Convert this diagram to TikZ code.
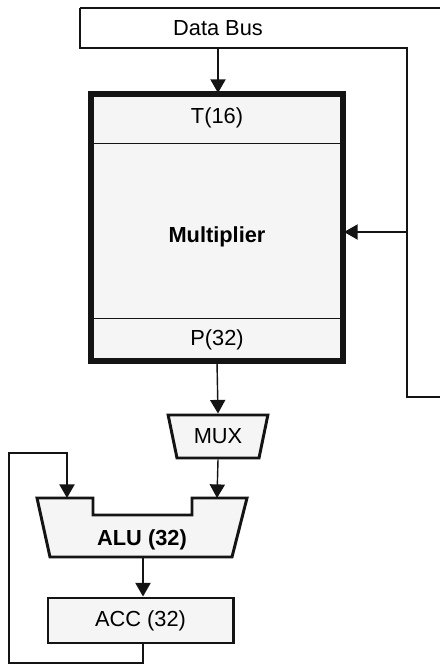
\documentclass[tikz,border=0pt]{standalone}
\usepackage{fontspec}
\setmainfont{Liberation Sans}
\usetikzlibrary{shapes.geometric, arrows.meta, positioning, calc}
\definecolor{ink}{HTML}{141414}
\definecolor{stipple}{HTML}{F5F5F5}
\tikzset{
  unit/.style     = {rectangle, draw=ink, line width=2.1pt, fill=stipple, align=center,
                      font=\fontsize{15.5}{17}\selectfont, inner sep=0pt},
  multbox/.style  = {unit, line width=2.9pt, minimum width=6.25cm, minimum height=6.625cm,
                      font=\fontsize{15.5}{17}\selectfont\bfseries},
  regsec/.style   = {rectangle, inner sep=0pt, minimum width=6.25cm, align=center,
                      font=\fontsize{15.5}{17}\selectfont},
  muxbox/.style   = {trapezium, trapezium left angle=71, trapezium right angle=71,
                      trapezium stretches=true, shape border rotate=180, draw=ink,
                      line width=2.1pt, fill=stipple, minimum width=2.5cm, minimum height=1.075cm,
                      inner sep=0pt, font=\fontsize{15.5}{17}\selectfont},
  aluedge/.style  = {draw=ink, line width=2.1pt, fill=stipple, line join=miter},
  busline/.style  = {draw=ink, line width=1pt},
  divider/.style  = {draw=ink, line width=1pt},
  flow/.style     = {-{Triangle[length=3.4mm, width=3.8mm]}, line width=1pt, draw=ink},
}
\begin{document}
\begin{tikzpicture}[x=0.025cm, y=-0.025cm]
  \useasboundingbox (0,0) rectangle (440,665);

  \draw[busline, line width=1.6pt] (440,8) -- (80,8);
  \draw[busline] (80,8) -- (80,48) -- (407,48) -- (407,397) -- (440,397);
  \node[font=\fontsize{15.5}{17}\selectfont] (bus) at (218,28) {Data Bus};
  \coordinate (busdrop) at (218,48);
  \coordinate (bustap) at (407,232);

  \node[multbox] (mult) at (217,227.5) {};
  \node[regsec, anchor=north, minimum height=1.25cm] (treg) at (mult.north) {T(16)};
  \node[regsec, anchor=south, minimum height=1.075cm] (preg) at (mult.south) {P(32)};
  \node[font=\fontsize{15.5}{17}\selectfont\bfseries] (mlabel) at (217,237) {Multiplier};
  \draw[divider] (treg.south west) -- (treg.south east);
  \draw[divider] (preg.north west) -- (preg.north east);
  \draw[multbox, fill=none] (mult.south west) rectangle (mult.north east);

  \node[muxbox] (mux) at (218,436.5) {MUX};

  \draw[aluedge] (37,498) -- (93,498) -- (93,515) -- (192,515) -- (192,498) -- (247,498)
    -- (232,557) -- (50,557) -- cycle;
  \node[font=\fontsize{15.5}{17}\selectfont\bfseries] (alu) at (142,540) {ALU (32)};
  \coordinate (aluin1) at (67,498);
  \coordinate (aluin2) at (217,498);
  \coordinate (aluout) at (143,557);

  \node[unit, minimum width=4.625cm, minimum height=1.125cm] (acc) at (140.5,620.5) {ACC (32)};
  \coordinate (fbl) at (9,663);
  \coordinate (fbtop) at (67,453);

  \draw[flow] (busdrop) -- (busdrop |- mult.north);
  \draw[flow] (bustap) -- (bustap -| mult.east);
  \draw[flow] (mult.south) -- (mux.north);
  \draw[flow] (mux.south) -- (aluin2);
  \draw[flow] (aluout) -- (aluout |- acc.north);
  \draw[flow] (aluout |- acc.south) |- (fbl) |- (fbtop) -- (aluin1);
\end{tikzpicture}
\end{document}
